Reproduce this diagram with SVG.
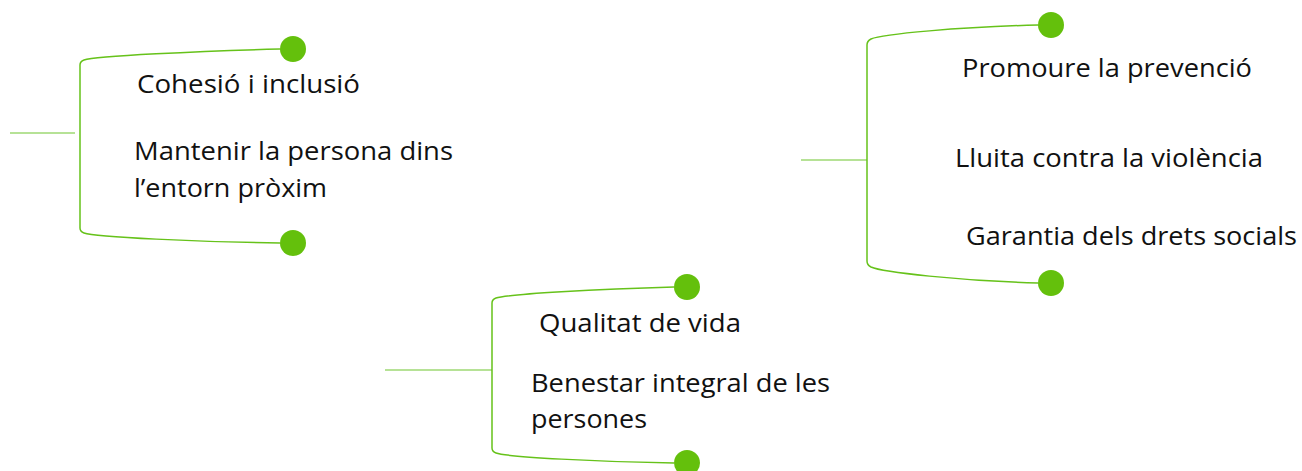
<svg xmlns="http://www.w3.org/2000/svg" width="1302" height="471" viewBox="0 0 1302 471">
<style>
.br{fill:none;stroke:#66c21a;stroke-width:1.5}
.st{fill:none;stroke:#9ed873;stroke-width:1.5}
.dot{fill:#64c00c}
text{font-family:"Open Sans","Noto Sans","Liberation Sans",sans-serif;font-size:26px;fill:#111}
</style>
<rect width="1302" height="471" fill="#fff"/>
<g id="connectors">
<line class="st" x1="10" y1="133" x2="75" y2="133"/>
<path class="br" d="M280,49 C200,51 95,56 84,60 Q80,61.5 80,65 L80,228 Q80,231.5 84,233 C95,237 200,242 280,243"/>
<line class="st" x1="801" y1="160" x2="867" y2="160"/>
<path class="br" d="M1038,25 C960,27 882,34 871,39 Q867,41 867,45 L867,261 Q867,265 871,267 C882,272 960,281 1038,283"/>
<line class="st" x1="385" y1="370" x2="492" y2="370"/>
<path class="br" d="M674,287 C600,289 507,294 496,298 Q492,299.5 492,303 L492,448 Q492,451.5 496,453 C507,457 600,462 674,463"/>
</g>
<g id="node-left">
<circle class="dot" cx="293" cy="49" r="13"/>
<circle class="dot" cx="293" cy="243" r="13"/>
<text x="137" y="93" textLength="223" lengthAdjust="spacingAndGlyphs">Cohesió i inclusió</text>
<text x="134" y="160" textLength="319" lengthAdjust="spacingAndGlyphs">Mantenir la persona dins</text>
<text x="134" y="197" textLength="193" lengthAdjust="spacingAndGlyphs">l’entorn pròxim</text>
</g>
<g id="node-right">
<circle class="dot" cx="1051" cy="25" r="13"/>
<circle class="dot" cx="1051" cy="283" r="13"/>
<text x="962" y="77" textLength="290" lengthAdjust="spacingAndGlyphs">Promoure la prevenció</text>
<text x="955" y="167" textLength="308" lengthAdjust="spacingAndGlyphs">Lluita contra la violència</text>
<text x="966" y="245" textLength="331" lengthAdjust="spacingAndGlyphs">Garantia dels drets socials</text>
</g>
<g id="node-bottom">
<circle class="dot" cx="687" cy="287" r="13"/>
<circle class="dot" cx="687" cy="463" r="13"/>
<text x="539" y="332" textLength="202" lengthAdjust="spacingAndGlyphs">Qualitat de vida</text>
<text x="531" y="392" textLength="299" lengthAdjust="spacingAndGlyphs">Benestar integral de les</text>
<text x="531" y="428" textLength="116" lengthAdjust="spacingAndGlyphs">persones</text>
</g>
</svg>
